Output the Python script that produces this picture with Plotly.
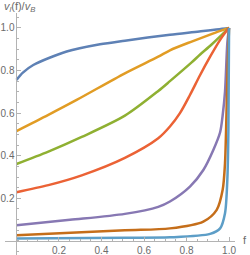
import plotly.graph_objects as go

# ---- data ----
f_blue = [0, 0.03, 0.079, 0.236, 0.393, 0.51, 0.722, 0.86, 0.989, 1.0]
v_blue = [0.756, 0.79, 0.826, 0.889, 0.923, 0.94, 0.968, 0.983, 0.998, 1.0]

f_orange = [0, 0.15, 0.283, 0.51, 0.667, 0.722, 0.824, 0.92, 1.0]
v_orange = [0.516, 0.592, 0.662, 0.787, 0.865, 0.895, 0.936, 0.972, 1.0]

f_green = [0, 0.15, 0.307, 0.51, 0.667, 0.722, 0.824, 0.864, 0.918, 1.0]
v_green = [0.361, 0.419, 0.488, 0.588, 0.704, 0.750, 0.838, 0.875, 0.922, 1.0]

f_red = [0, 0.15, 0.307, 0.51, 0.667, 0.722, 0.769, 0.816, 0.864, 0.911, 0.958, 0.985, 1.0]
v_red = [0.229, 0.262, 0.308, 0.39, 0.482, 0.537, 0.600, 0.685, 0.779, 0.865, 0.944, 0.982, 1.0]

f_purple = [0, 0.252, 0.51, 0.667, 0.722, 0.816, 0.879, 0.926, 0.958, 0.97, 0.981, 0.992, 1.0]
v_purple = [0.074, 0.099, 0.127, 0.16, 0.185, 0.255, 0.333, 0.427, 0.51, 0.59, 0.70, 0.93, 1.0]

f_dorange = [0, 0.51, 0.722, 0.879, 0.942, 0.97, 0.981, 0.986, 0.993, 1.0]
v_dorange = [0.027, 0.05, 0.059, 0.091, 0.146, 0.24, 0.365, 0.52, 0.8, 1.0]

f_lblue = [0, 0.51, 0.722, 0.911, 0.958, 0.981, 0.992, 0.997, 1.0]
v_lblue = [0.012, 0.015, 0.017, 0.033, 0.059, 0.13, 0.29, 0.52, 1.0]

series = [
    (f_blue, v_blue, "#5E81B5"),
    (f_orange, v_orange, "#E19C24"),
    (f_green, v_green, "#8FB032"),
    (f_red, v_red, "#EB6235"),
    (f_purple, v_purple, "#8778B3"),
    (f_dorange, v_dorange, "#C56E1A"),
    (f_lblue, v_lblue, "#5D9EC7"),
]

tick_vals = [0.2, 0.4, 0.6, 0.8, 1.0]
tick_text = ["0.2", "0.4", "0.6", "0.8", "1.0"]

# ---- figure ----
W, H = 250, 255
ML, MR, MT, MB = 5, 15, 13, 0
xr = [-0.054, 1.028]
yr = [-0.066, 1.07]
pw, ph = W - ML - MR, H - MT - MB

fig = go.Figure()
for fx, vy, col in series:
    fig.add_trace(go.Scatter(x=fx, y=vy, mode="lines",
                             line=dict(color=col, width=2.5, shape="spline", smoothing=0.8),
                             showlegend=False, hoverinfo="skip"))

axcol = "#b3b3b3"
txtcol = "#6b6b6b"
font = dict(family="Liberation Sans, Arial, sans-serif", size=10, color=txtcol)

pos_x_axis = (0 - yr[0]) / (yr[1] - yr[0])
pos_y_axis = (0 - xr[0]) / (xr[1] - xr[0])

fig.update_layout(
    width=W, height=H, autosize=False,
    margin=dict(l=ML, r=MR, t=MT, b=MB, pad=0),
    paper_bgcolor="white", plot_bgcolor="white",
    font=font,
    xaxis=dict(range=xr, showgrid=False, zeroline=False, showline=True,
               linecolor=axcol, linewidth=1, anchor="free", position=pos_x_axis,
               tickmode="array", tickvals=tick_vals, ticktext=tick_text,
               ticks="inside", ticklen=4, tickcolor=axcol, tickwidth=1,
               tickfont=font, automargin=False,
               minor=dict(tickmode="linear", tick0=0, dtick=0.05, ticks="inside",
                          ticklen=2, tickcolor=axcol, showgrid=False)),
    yaxis=dict(range=yr, showgrid=False, zeroline=False, showline=True,
               linecolor=axcol, linewidth=1, anchor="free", position=pos_y_axis,
               tickmode="array", tickvals=tick_vals, ticktext=tick_text,
               ticks="inside", ticklen=4, tickcolor=axcol, tickwidth=1,
               tickfont=font, automargin=False,
               minor=dict(tickmode="linear", tick0=0, dtick=0.05, ticks="inside",
                          ticklen=2, tickcolor=axcol, showgrid=False)),
)

def px2paper(px, py):
    return (px - ML) / pw, (H - MB - py) / ph

tx, ty = px2paper(2, 7)
fig.add_annotation(text="<i>v</i><sub><i>l</i></sub>(f)/<i>v</i><sub><i>B</i></sub>",
                   xref="paper", yref="paper", x=tx, y=ty, xanchor="left", yanchor="middle",
                   showarrow=False, font=dict(family="Liberation Sans, Arial, sans-serif", size=11, color=txtcol))
fx_, fy_ = px2paper(245, 240)
fig.add_annotation(text="f", xref="paper", yref="paper", x=fx_, y=fy_,
                   xanchor="center", yanchor="middle", showarrow=False,
                   font=dict(family="Liberation Sans, Arial, sans-serif", size=11, color=txtcol))

fig.write_html("out.html", config={"displayModeBar": False},
               post_script="document.body.style.margin='0';document.body.style.overflow='hidden';")
